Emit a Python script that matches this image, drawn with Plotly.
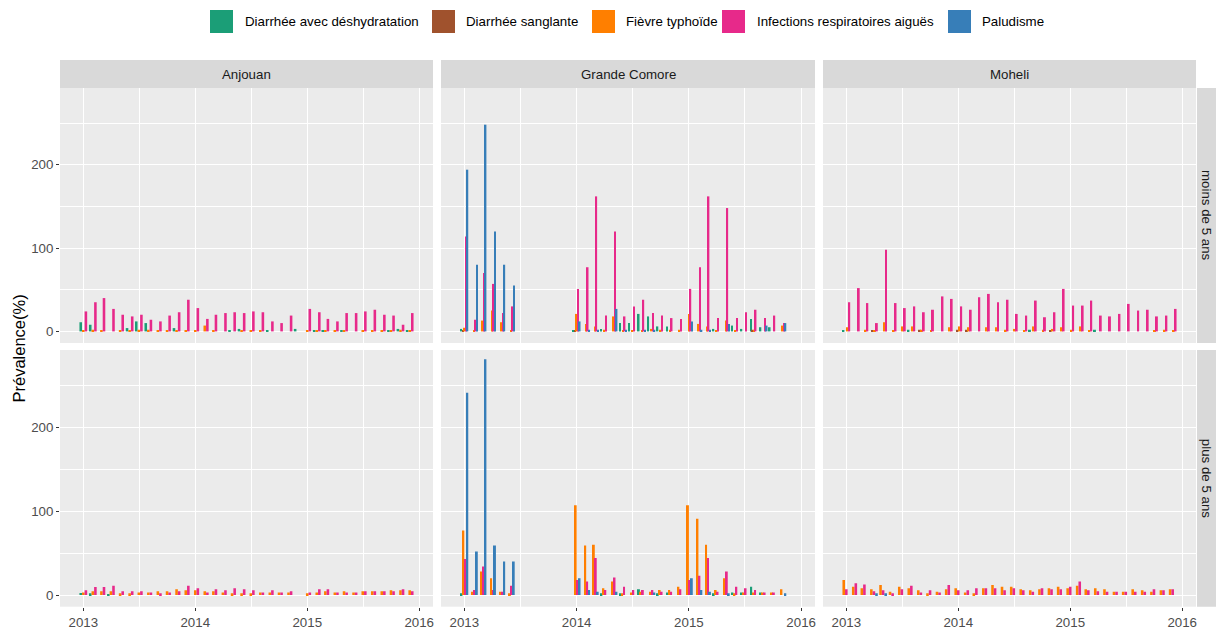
import plotly.graph_objects as go
import pandas as pd

# ---------------- data ----------------
months = pd.date_range("2013-01-01", periods=36, freq="MS").strftime("%Y-%m-%d").tolist()

regions = ["Anjouan", "Grande Comore", "Moheli"]
ages = ["moins de 5 ans", "plus de 5 ans"]
diseases = ["Diarrhée avec déshydratation", "Diarrhée sanglante", "Fièvre typhoïde",
            "Infections respiratoires aiguës", "Paludisme"]
colors = ["#1B9E77", "#A0522D", "#FF7F00", "#E7298A", "#377EB8"]

x_tick_vals = ["2013-01-01", "2014-01-01", "2015-01-01", "2016-01-01"]
x_tick_text = ["2013", "2014", "2015", "2016"]
x_minor_vals = ["2012-07-02", "2013-07-02", "2014-07-02", "2015-07-02"]
y_tick_vals = [0, 100, 200]
y_minor_vals = [50, 150, 250]

# Anjouan, moins de 5 ans
anj_u5_green = [11, 8, 0, 0, 0, 4, 12, 10, 0, 0, 4, 0, 0, 0, 0, 0, 1, 3, 0, 0,
                1, 0, 0, 3, 0, 1, 1, 0, 1, 0, 0, 0, 0, 1, 3, 1]
anj_u5_brown = [0, 0, 0, 0, 0, 0, 0, 0, 0, 0, 0, 0, 0, 0, 0, 0, 0, 0, 0, 0,
                0, 0, 0, 0, 0, 0, 0, 0, 0, 0, 0, 0, 0, 0, 0, 0]
anj_u5_orange = [1, 2, 1, 0, 1, 1, 2, 2, 1, 1, 1, 1, 1, 7, 1, 0, 0, 1, 1, 1,
                 0, 0, 0, 0, 1, 1, 1, 1, 1, 0, 1, 1, 1, 1, 2, 1]
anj_u5_pink = [24, 35, 40, 27, 20, 18, 20, 14, 12, 19, 23, 38, 28, 15, 20, 22, 23, 22, 24, 23,
               12, 10, 19, 0, 27, 23, 15, 12, 22, 22, 24, 26, 20, 19, 8, 22]
anj_u5_blue = [0, 0, 0, 0, 0, 0, 0, 0, 0, 0, 0, 0, 0, 0, 0, 0, 0, 0, 0, 0,
               0, 0, 0, 0, 0, 0, 0, 0, 0, 0, 0, 0, 0, 0, 0, 0]

# Anjouan, plus de 5 ans
anj_o5_green = [2.4, 2, 0, 1, 0, 0, 0, 0, 0, 0, 0, 0, 0, 0, 0, 0, 0, 0, 0, 0,
                0, 0, 0, 0, 0, 0, 0, 0, 0, 0, 0, 0, 0, 0, 0, 0]
anj_o5_brown = [0, 0, 0, 0, 0, 0, 0, 0, 0, 0, 0, 0, 0, 0, 0, 0, 0, 0, 0, 0,
                0, 0, 0, 0, 0, 0, 0, 0, 0, 0, 0, 0, 0, 0, 0, 0]
anj_o5_orange = [3, 4.4, 4.4, 4.4, 2, 2, 3, 3, 4.4, 4.4, 7, 5.6, 5.6, 4.4, 4.4, 3, 2, 2, 2, 3,
                 3, 3, 3, 0, 2, 3, 4.4, 3, 4.4, 3, 4.4, 4.4, 4.4, 5.6, 5.6, 5.6]
anj_o5_pink = [5.6, 9.7, 9.7, 11, 4.4, 4.4, 4.4, 3, 2, 3, 4.4, 11, 8, 3, 7, 5.6, 8, 7, 5.6, 3,
               5.6, 3, 4.4, 0, 3, 7, 7, 3, 3, 3, 4.4, 4.4, 4.4, 4.4, 7, 4.4]
anj_o5_blue = [0, 0, 0, 0, 0, 0, 0, 0, 0, 0, 0, 0, 0, 0, 0, 0, 0, 0, 0, 0,
               0, 0, 0, 0, 0, 0, 0, 0, 0, 0, 0, 0, 0, 0, 0, 0]

# Grande Comore, moins de 5 ans
gc_u5_green = [3, 0, 0, 0, 0, 0, 0, 0, 0, 0, 0, 0, 1, 0, 0, 3, 0, 10, 10, 21,
               18, 6, 6, 0, 0, 0, 0, 3, 0, 7, 3, 15, 5, 5, 0, 0]
gc_u5_brown = [1, 0, 0, 0, 0, 0, 0, 0, 0, 0, 0, 0, 1, 0, 0, 0, 0, 0, 0, 0,
               0, 0, 0, 0, 0, 0, 0, 0, 0, 0, 0, 2, 0, 0, 0, 0]
gc_u5_orange = [4.4, 1, 13, 25, 11, 1, 0, 0, 0, 0, 0, 0, 21, 9, 6, 2, 18, 1, 1, 1,
                3, 2, 2, 2, 21, 9, 6, 1, 13, 1, 0, 2, 0, 0, 7, 0]
gc_u5_pink = [114, 14, 70, 57, 22, 30, 0, 0, 0, 0, 0, 0, 51, 77, 162, 19, 120, 18, 30, 38,
              22, 19, 16, 15, 51, 77, 162, 16, 148, 16, 23, 26, 16, 19, 10, 0]
gc_u5_blue = [194, 80, 248, 120, 80, 55, 0, 0, 0, 0, 0, 0, 12, 2, 2, 0, 27, 2, 0, 2,
              2, 0, 0, 0, 12, 2, 2, 0, 9, 0, 0, 0, 7, 0, 10, 0]

# Grande Comore, plus de 5 ans
gc_o5_green = [2, 0, 0, 0, 0, 0, 0, 0, 0, 0, 0, 0, 0, 0, 0, 2, 0, 2, 0, 7,
               0, 2, 3, 0, 0, 0, 0, 2, 0, 3, 3, 10, 3, 0, 0, 0]
gc_o5_brown = [0, 0, 0, 0, 0, 0, 0, 0, 0, 0, 0, 0, 0, 0, 0, 0, 0, 0, 0, 0,
               0, 0, 0, 0, 0, 0, 0, 0, 0, 0, 0, 0, 0, 0, 0, 0]
gc_o5_orange = [77, 4, 28, 20, 4, 2, 0, 0, 0, 0, 0, 0, 107, 59, 60, 8, 16, 2, 3, 4,
                4, 6, 6, 10, 107, 91, 60, 6, 20, 2, 3, 3, 3, 3, 7, 0]
gc_o5_pink = [43, 6, 34, 6, 4, 11, 0, 0, 0, 0, 0, 0, 18, 16, 44, 6, 21, 10, 6, 6,
              6, 4, 4, 7, 18, 23, 44, 4, 28, 10, 8, 6, 3, 3, 0, 0]
gc_o5_blue = [241, 52, 281, 59, 40, 40, 0, 0, 0, 0, 0, 0, 20, 6, 4, 0, 4, 0, 0, 0,
              3, 0, 0, 0, 20, 6, 4, 0, 2, 0, 0, 0, 0, 0, 2, 0]

# Moheli, moins de 5 ans
mo_u5_green = [1, 0, 0, 0, 0, 0, 0, 2, 0, 0, 0, 0, 0, 0, 0, 0, 0, 0, 0, 0,
               2, 0, 0, 0, 0, 0, 0, 2, 0, 0, 0, 0, 0, 0, 0, 0]
mo_u5_brown = [0, 0, 0, 1, 0, 0, 0, 0, 2, 0, 0, 0, 2, 2, 0, 0, 0, 0, 0, 0,
               0, 0, 1, 0, 0, 0, 0, 0, 0, 0, 0, 0, 0, 0, 0, 0]
mo_u5_orange = [5, 0, 2, 1, 11, 1, 6, 6, 2, 1, 0, 5, 6, 5, 0, 5, 5, 2, 3, 1,
                6, 2, 3, 5, 2, 6, 1, 0, 0, 0, 0, 0, 0, 1, 2, 1]
mo_u5_pink = [35, 52, 34, 10, 98, 34, 28, 30, 23, 26, 42, 39, 30, 26, 41, 45, 35, 38, 21, 19,
              37, 17, 23, 51, 31, 31, 37, 19, 18, 21, 33, 25, 26, 18, 19, 27]
mo_u5_blue = [0, 0, 0, 0, 0, 0, 0, 0, 0, 0, 0, 0, 0, 0, 0, 0, 0, 0, 0, 0,
              0, 0, 0, 0, 0, 0, 0, 0, 0, 0, 0, 0, 0, 0, 0, 0]

# Moheli, plus de 5 ans
mo_o5_green = [0, 0, 0, 0, 0, 0, 0, 0, 0, 0, 0, 0, 0, 0, 0, 0, 0, 0, 0, 0,
               0, 0, 0, 0, 0, 0, 0, 0, 0, 0, 0, 0, 0, 0, 0, 0]
mo_o5_brown = [0, 0, 0, 0, 0, 0, 0, 0, 0, 0, 0, 0, 0, 0, 0, 0, 0, 0, 0, 0,
               0, 0, 0, 0, 0, 0, 0, 0, 0, 0, 0, 0, 0, 0, 0, 0]
mo_o5_orange = [18, 10, 8, 7, 12, 4, 10, 8, 5.6, 2, 4, 7, 8, 3, 2, 8, 12, 10, 10, 7,
                5.6, 7, 8, 10, 8, 11, 7, 8, 7, 4, 4, 7, 5.6, 4, 5.6, 7]
mo_o5_pink = [7, 14, 12.5, 4.4, 5.6, 2, 7, 11, 3, 5.6, 3, 12, 5.6, 5.6, 8, 8, 8, 5.6, 8, 5.6,
              4, 8, 7, 7, 10, 16, 5.6, 4.4, 4, 4, 4, 4, 4, 7, 5.6, 7]
mo_o5_blue = [0, 0, 0, 2, 2, 0, 0, 0, 0, 0, 0, 0, 0, 0, 0, 0, 0, 0, 0, 0,
              0, 0, 0, 0, 0, 0, 0, 0, 0, 0, 0, 0, 0, 0, 0, 0]

panel_data = {
    (0, 0): [anj_u5_green, anj_u5_brown, anj_u5_orange, anj_u5_pink, anj_u5_blue],
    (0, 1): [gc_u5_green, gc_u5_brown, gc_u5_orange, gc_u5_pink, gc_u5_blue],
    (0, 2): [mo_u5_green, mo_u5_brown, mo_u5_orange, mo_u5_pink, mo_u5_blue],
    (1, 0): [anj_o5_green, anj_o5_brown, anj_o5_orange, anj_o5_pink, anj_o5_blue],
    (1, 1): [gc_o5_green, gc_o5_brown, gc_o5_orange, gc_o5_pink, gc_o5_blue],
    (1, 2): [mo_o5_green, mo_o5_brown, mo_o5_orange, mo_o5_pink, mo_o5_blue],
}

# ---------------- layout geometry ----------------
W, H = 1216, 631
col_px = [(60, 433), (441, 815), (823, 1196)]
row_px = [(88, 343), (350, 606.7)]
strip_top = (60, 88)
strip_right = (1197, 1216)
legend_key_left = [210, 432, 592, 722, 948]
legend_text_left = [243, 464, 624, 755, 980]
legend_key_size = 23
legend_y_center = 21.5
FONT = "Liberation Sans, Arial, sans-serif"
AXIS_TXT = "#4D4D4D"
FS = 13.3
x_range = ["2012-10-17", "2016-02-15"]
y_range = [-13.9, 292]

# ggplot-like dodge: group width = 0.9 * data resolution (28 days), split among
# the series reported in the panel, for every month that has data
DAY_MS = 86400000
GROUP_W = 0.9 * 28 * DAY_MS


def dodge(series_list):
    n_series = len(series_list)
    n_months = len(series_list[0])
    reported = [k for k in range(n_series) if any(v > 0 for v in series_list[k])]
    widths = [[GROUP_W] * n_months for _ in range(n_series)]
    offsets = [[0] * n_months for _ in range(n_series)]
    n = len(reported)
    for m in range(n_months):
        if not any(series_list[k][m] > 0 for k in reported):
            continue
        bw = GROUP_W / n
        for j, k in enumerate(reported):
            widths[k][m] = bw
            offsets[k][m] = -GROUP_W / 2 + j * bw
    return widths, offsets


fig = go.Figure()
layout = {}

for r in range(2):
    for c in range(3):
        i = r * 3 + c + 1
        xn = "x" if i == 1 else f"x{i}"
        yn = "y" if i == 1 else f"y{i}"
        series_list = panel_data[(r, c)]
        widths, offsets = dodge(series_list)
        for k, d in enumerate(diseases):
            yvals = [v if v > 0 else None for v in series_list[k]]
            fig.add_trace(go.Bar(
                x=months, y=yvals, xaxis=xn, yaxis=yn,
                width=widths[k], offset=offsets[k],
                name=d, legendgroup=d, showlegend=False,
                marker=dict(color=colors[k], line=dict(width=0)),
            ))
        layout["xaxis" if i == 1 else f"xaxis{i}"] = dict(
            domain=[col_px[c][0] / W, col_px[c][1] / W], anchor=yn, type="date",
            range=x_range, tickvals=x_tick_vals, ticktext=x_tick_text,
            showticklabels=(r == 1), ticks="outside" if r == 1 else "",
            ticklen=3, tickcolor="#333333", tickwidth=1,
            tickfont=dict(family=FONT, size=FS, color=AXIS_TXT),
            showgrid=True, gridcolor="white", gridwidth=1.3, zeroline=False,
            showline=False, fixedrange=True,
            minor=dict(tickvals=x_minor_vals, showgrid=True, gridcolor="white",
                       gridwidth=0.6, ticks=""),
        )
        layout["yaxis" if i == 1 else f"yaxis{i}"] = dict(
            domain=[1 - row_px[r][1] / H, 1 - row_px[r][0] / H], anchor=xn,
            range=y_range, tickvals=y_tick_vals,
            showticklabels=(c == 0), ticks="outside" if c == 0 else "",
            ticklen=3, tickcolor="#333333", tickwidth=1,
            tickfont=dict(family=FONT, size=FS, color=AXIS_TXT),
            showgrid=True, gridcolor="white", gridwidth=1.3, zeroline=False,
            showline=False, fixedrange=True,
            minor=dict(tickvals=y_minor_vals, showgrid=True, gridcolor="white",
                       gridwidth=0.6, ticks=""),
        )

shapes = []
annotations = []
# legend (keys + labels)
for k, d in enumerate(diseases):
    shapes.append(dict(type="rect", xref="paper", yref="paper",
                       x0=legend_key_left[k] / W, x1=(legend_key_left[k] + legend_key_size) / W,
                       y0=1 - (legend_y_center + legend_key_size / 2) / H,
                       y1=1 - (legend_y_center - legend_key_size / 2) / H,
                       fillcolor=colors[k], line=dict(width=0)))
    annotations.append(dict(text=d, xref="paper", yref="paper",
                            x=legend_text_left[k] / W, y=1 - legend_y_center / H,
                            showarrow=False, xanchor="left", yanchor="middle",
                            font=dict(family=FONT, size=FS, color="black")))
# facet strips
for c, reg in enumerate(regions):
    shapes.append(dict(type="rect", xref="paper", yref="paper",
                       x0=col_px[c][0] / W, x1=col_px[c][1] / W,
                       y0=1 - strip_top[1] / H, y1=1 - strip_top[0] / H,
                       fillcolor="#D9D9D9", line=dict(width=0)))
    annotations.append(dict(text=reg, xref="paper", yref="paper",
                            x=(col_px[c][0] + col_px[c][1]) / 2 / W,
                            y=1 - (strip_top[0] + strip_top[1]) / 2 / H,
                            showarrow=False, xanchor="center", yanchor="middle",
                            font=dict(family=FONT, size=FS, color="#1A1A1A")))
for r, age in enumerate(ages):
    shapes.append(dict(type="rect", xref="paper", yref="paper",
                       x0=strip_right[0] / W, x1=strip_right[1] / W,
                       y0=1 - row_px[r][1] / H, y1=1 - row_px[r][0] / H,
                       fillcolor="#D9D9D9", line=dict(width=0)))
    annotations.append(dict(text=age, xref="paper", yref="paper",
                            x=(strip_right[0] + strip_right[1]) / 2 / W,
                            y=1 - (row_px[r][0] + row_px[r][1]) / 2 / H,
                            showarrow=False, textangle=90,
                            xanchor="center", yanchor="middle",
                            font=dict(family=FONT, size=FS, color="#1A1A1A")))
annotations.append(dict(text="Prévalence(%)", xref="paper", yref="paper",
                        x=18 / W, y=1 - 348.5 / H, showarrow=False, textangle=-90,
                        xanchor="center", yanchor="middle",
                        font=dict(family=FONT, size=16.5, color="black")))

fig.update_layout(
    width=W, height=H, autosize=False,
    margin=dict(l=0, r=0, t=0, b=0),
    paper_bgcolor="white", plot_bgcolor="#EBEBEB",
    barmode="overlay",
    font=dict(family=FONT, size=FS, color="black"),
    showlegend=False,
    shapes=shapes, annotations=annotations,
    **layout,
)

fig.write_html("out.html",
               config={"displayModeBar": False},
               post_script="document.body.style.margin='0px';"
                           "document.body.style.overflow='hidden';")
